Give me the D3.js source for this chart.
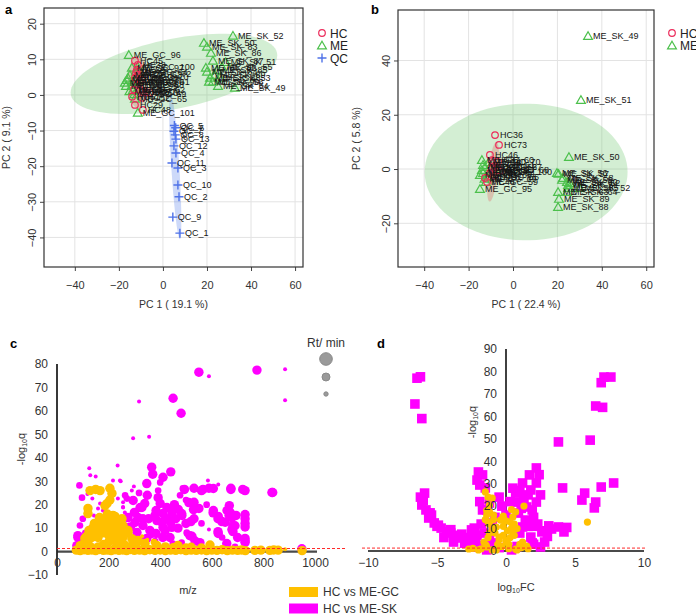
<!DOCTYPE html>
<html><head><meta charset="utf-8">
<script src="https://cdn.jsdelivr.net/npm/d3@7"></script>
<style>body{margin:0;background:#fff}svg{display:block;font-family:"Liberation Sans",Arial,sans-serif}</style>
</head><body><svg id="chart" width="696" height="614"></svg>
<script>
// ---------------- DATA ----------------
// Panel a : PCA scores (name, PC1, PC2)
const aHC = [["HC45",-12.7,9.6],["HC38",-11.4,8.4],["HC39",-11.8,7],["HC40",-11.4,5.6],["HC41",-12.7,4.8],["HC42",-9.5,4.2],["HC43",-10.5,3.4],["HC44",-11.8,2.8],["HC46",-10.5,1.4],["HC47",-9.1,0.8],["HC50",-7.3,0.8],["HC51",-14,-0.5],["HC52",-9.5,-0.8],["HC29",-12.7,-2.8],["HC48",-9.1,-4.2],["HC53",-5.9,0.6],["HC54",-13.2,1.5],["HC55",-12.2,6.2]];
const aME = [["ME_GC_96",-15.5,11.2],["ME_GC_97",-14.1,7.6],["ME_GC_98",-15.9,4.8],["ME_GC_99",-16.8,2.5],["ME_GC_60",-14.1,3.7],["ME_GC_61",-11.4,3.7],["ME_GC_62",-13.6,1.4],["ME_GC_63",-15,5.6],["ME_GC_64",-12.3,6.5],["ME_GC_101",-11.4,-5],["ME_GC_65",-12.7,-1.1],["ME_GC_100",-11.4,7.9],["ME_GC_66",-17.3,3.4],["ME_GC_67",-16.4,4.2],["ME_GC_68",-14,2.8],["ME_GC_69",-13,0.2],["ME_GC_70",-12,5],["ME_GC_71",-15.2,1.0],["ME_GC_72",-10.8,6.0],
  ["ME_SK_52",31.8,16.6],["ME_SK_50",18.6,14.6],["ME_SK_83",20,13.5],["ME_SK_86",21.8,11.8],["ME_SK_87",22.7,9.6],["ME_SK_82",19.5,7.6],["ME_SK_84",20,6.5],["ME_SK_85",24.5,7],["ME_SK_88",21.4,4.8],["ME_SK_89",23.6,5.6],["ME_SK_90",20.9,3.7],["ME_SK_53",25.9,4.8],["ME_SK_54",25,2.5],["ME_SK_49",32.7,2],["ME_SK_55",26.8,7.9],["ME_SK_51",28.5,9.2],["ME_SK_56",22.7,3.7]];
const aQC = [["QC_5",5.2,-8.6],["QC_6",5.8,-9.2],["QC_7",5.0,-10.2],["QC_8",5.6,-11.2],["QC_13",5.9,-12.4],["QC_12",5.0,-14.3],["QC_4",5.9,-16.3],["QC_11",4.1,-19.1],["QC_3",6.8,-20.5],["QC_10",6.8,-25.3],["QC_2",7.3,-28.6],["QC_9",4.5,-34.3],["QC_1",7.7,-38.8]];
// Panel b : PCA scores
const bHC = [["HC36",-8.1,12.5],["HC73",-6.3,8.9],["HC46",-10.4,5.2],["HC37",-9.5,3.3],["HC38",-9,2.2],["HC39",-7.2,0.7],["HC40",-6.8,2.6],["HC41",-9.5,0.4],["HC42",-10.4,-1.5],["HC43",-9,-1.1],["HC44",-11.7,-4.8],["HC45",-12.6,-3.3],["HC47",-8.5,-2.5],["HC48",-6,-0.5]];
const bME = [["ME_GC_60",-14,3.3],["ME_GC_61",-13.5,1.5],["ME_GC_62",-12.6,0.7],["ME_GC_63",-14,-0.4],["ME_GC_64",-13.5,-1.5],["ME_GC_65",-14.9,-2.2],["ME_GC_66",-11.7,-2.9],["ME_GC_59",-12.2,-4.8],["ME_GC_95",-14.9,-7.4],["ME_GC_100",-8.1,-1.1],["ME_GC_67",-10.4,0.7],["ME_GC_68",-7.2,-0.4],["ME_GC_69",-12.8,-3.6],["ME_GC_70",-11,2.5],
  ["ME_SK_49",33.8,49],["ME_SK_51",30.6,25.4],["ME_SK_50",25.2,4.4],["ME_SK_56",19.8,-1.5],["ME_SK_57",20.5,-1.8],["ME_SK_58",22.5,-3.3],["ME_SK_59",22.1,-4],["ME_SK_60",24.3,-4.8],["ME_SK_61",24.8,-5.9],["ME_SK_62",25.5,-5.2],["ME_SK_63",20.3,-8.5],["ME_SK_64",24.3,-8.5],["ME_SK_65",24.8,-7],["ME_SK_52",30,-7],["ME_SK_89",20.7,-11],["ME_SK_88",20.3,-14]];
// confidence ellipses: centre, semi-axis vector u, semi-axis vector v (data units)
const aEllME = [5, 5.9, 46.8, 5.9, -3.2, 9.6];
const aEllHC = [-11.4, 3.7, 0, 7.3, 4.5, 0];
const aEllQC = [5.6, -20, 2.1, -20.5, 1.8, 0.2];
const bEllME = [5.9, -1.1, 45.7, 0, 0, 25.2];
const bEllHC = [-9, -1, 1.5, 11, 2.2, 0];
const aXTicks = [-40,-20,0,20,40,60], aYTicks = [-40,-30,-20,-10,0,10,20];
const bXTicks = [-40,-20,0,20,40,60], bYTicks = [-20,0,20,40];

// Panel c : m/z, -log10 q, Rt (min)
const T = 2.5, M = 7, L = 14;
const cSK = [[550,76.5,L],[589,74.8,T],[775,77.4,L],[884,77.8,T],[884,64.5,T],[318,64,T],[450,65.4,L],[481,59,L],[295,48.3,T],[357,49,T],
[125,35.5,T],[129,32.5,T],[150,32,T],[235,36.7,T],[247,30,T],[217,30.3,T],[244,30.3,T],
[367,36,L],[371,33,L],[411,31.7,L],[441,34,L],[348,29,L],[400,29.5,M],[585,30.3,T],[625,28.6,T],
[87,28.2,M],[97,23,M],[137,22.6,T],[494,26.5,L],[560,26,L],[606,26.9,L],[674,26.5,L],[729,26,L],[836,25.2,L],
[511,20.9,L],[529,17.9,L],[483,16.2,L],[460,14,L],[519,12.8,L],[606,17.5,L],[625,15,L],[639,12.8,L],[668,19.6,L],[671,16.7,L],[694,15.4,L],[729,15.8,L],[729,12,L],[682,11,L],[678,9.4,L],[625,7.7,L],[729,5.6,L],[729,3.9,L],[589,9.4,T],[503,8.1,M],[515,6.8,L],[449,3.4,M],
[392,23,L],[384,17.5,L],[411,16.2,L],[387,13.2,L],[411,10.3,L],[384,7.7,L],[360,9,L],[329,18.8,L],[295,21.8,L],[314,14.5,L],[275,14.5,L],[271,7.7,M],[333,11.1,L],[310,8.1,L],
[100,14,M],[89,11.1,M],[81,6,L],[97,3.8,M],[143,15.4,T],[167,20.5,T],[178,17.5,T],[147,11.1,M],[256,18.8,T],[263,16.7,T],[290,26,T],[298,27.8,T],[198,20.5,T],[236,22.6,T],
[477,24,M],[500,22,M],[426,18.8,L],[445,10.3,L],[348,5.6,L],[306,3.8,L],[483,3.8,M],[554,3.8,L],[658,3.4,L],[690,2,M],[949,1.2,L],
[264,24,M],[322,18.8,L],[300,16.7,L],[271,22.6,M],[302,12.4,L],[333,14,L],[380,15.4,L],[407,12.4,L],[419,9,L],[367,7.7,L],[380,4.5,M],[446,16.7,L],[484,15.4,L],[469,10,L],[438,6,L],[504,7.7,M],[159,18.4,T],[159,14.5,M],[186,16.2,T],[256,21,T],[256,19,T],[81,6.8,L],[77,2.5,L],
[488,27,M],[392,26,M],[566,26.5,L],[589,27,L],[674,27,L],[720,26.5,L],[833,25.2,L],[531,27,L],[531,21,L],[550,18.4,L],[531,14,L],[523,6.5,L],[535,4.5,L],[605,16.5,L],[624,14,L],[652,12.5,L],[659,17.5,L],[667,15.5,L],[678,14.5,L],[690,11,L],[682,8.5,L],[729,14,L],[729,10.5,L],[624,8.5,L],[729,4.5,L],
[340,20.5,L],[355,14,L],[400,20.5,L],[430,14,L],[455,20,L],[350,24,L],[318,25,M],[285,10.5,L],[265,11,M],[410,6,L],[440,12.5,L],[470,18,L],[500,12,L],[560,12,M],[580,20,M],[640,6,M],[700,6,L],[110,8,M],[118,24.5,T],[205,13,T]];
const cGC = [[75,0.6,L],[90,0.4,L],[105,0.8,L],[120,0.5,L],[135,0.7,L],[150,0.4,L],[165,0.9,L],[180,0.5,L],[195,0.6,L],[210,0.4,L],[225,0.8,L],[240,0.5,L],[255,0.7,L],[270,0.4,L],[285,0.9,L],[300,0.5,L],[320,0.6,L],[340,0.4,L],[360,0.8,L],[380,0.5,L],[400,0.7,L],[420,0.4,L],[440,0.6,L],[460,0.5,L],[480,0.8,L],[500,0.4,L],[520,0.6,L],[540,0.5,L],[560,0.7,L],[580,0.4,L],[600,0.6,L],[620,0.5,L],[640,0.8,L],[660,0.4,L],[680,0.6,L],[700,0.5,L],[715,0.7,L],[730,0.4,L],[767,0.5,L],[790,0.6,L],[825,0.5,L],[840,0.7,L],[857,0.6,L],[884,1.0,T],[950,0.4,L],
[128,26,L],[150,26.5,L],[167,26,L],[205,27,L],[213,24.8,L],[205,22,L],[194,20.5,L],[120,18.4,L],[120,16.2,L],[186,19.6,L],[217,15.4,L],[186,14,L],[159,12,L],[140,10.3,L],[124,9,L],[252,14,L],[256,11,L],[264,7.7,L],[236,7.1,L],[275,9,L],[108,5.6,L],[205,12,L],[213,8,L],[178,8,L],[159,6,L],[217,5,L],[314,4.7,L],[341,3.4,L],[275,8,L],[310,3.8,L],[387,2.6,L],[593,2.8,L],[469,2.6,L],[230,13,L],[240,10,L],[195,16,L],[170,10,L],[150,8,L],[135,6,L],[120,4.5,L],[100,3,L],[200,4,L],[240,4.5,L],[260,3,L],[290,2.5,L],[230,2,L],[180,3,L],[160,2,L],[130,2,L],[350,1.5,M],[420,2,L],[450,1.6,L],[500,1.5,L],[520,1.8,L],[560,1.5,L],[330,6.5,T],[350,5,T],[376,4,M],
[225,15,L],[200,14.5,L],[175,12.5,L],[190,10,L],[220,10,L],[165,14.5,L],[145,12,L],[255,6,L],[290,5.5,L],[115,6.5,L],[90,2.5,L],[200,7,L],[230,5,L]];
const cXTicks = [0,200,400,600,800,1000], cYTicks = [-10,0,10,20,30,40,50,60,70,80];
const rtLegend = [25, 10, 3];

// Panel d : log10FC, -log10 q
const dSK = [[-6.45,77],[-6.2,77.6],[-6.6,65.5],[-6.1,59],[3.8,48.6],[6.1,49.4],[6.5,64.6],[7,64],[6.9,75],[7.1,77.5],[7.6,77.5],
[-5.9,25.8],[-6.1,20.5],[-5.8,18.3],[-5.6,14.7],[-5.2,12.5],[-4.7,10.2],[-4.3,8.5],[-3.8,7],[-3.3,5.8],[-2.8,4.9],[-2.3,10.2],[-2.1,7],[-2.2,4.9],[-2,35.2],[-1.7,33.9],[-2.1,31.6],[-1.9,29.4],[-1.5,28.1],[-1.4,18.3],[-1.2,21.4],[-1,12.5],[0.7,25.8],[0.8,21.8],[1.2,30.3],[1.7,33.9],[2.2,37],[2.2,30.3],[1.8,27.2],[2.5,25],[2.2,21.8],[1.5,19.6],[1.9,18.3],[0.9,16.9],[1.4,13.8],[1.2,10.7],[1.8,6.2],[2.6,8.5],[3.3,9.8],[3.8,10.7],[4.2,8.5],[4.1,28.1],[5.7,25.8],[5.5,22.7],[6.5,21.8],[6.4,19.2],[6.9,28.5],[7.8,30.3],[-2.5,9.4],[-2.9,4],[-2.5,1.8],[-1,3.6],[1.9,3.6],[2.5,1.8],[-1.4,0.5],[0.4,0.5],[-1.7,18.3],[-0.5,24],[-0.3,20],[0.3,22],[-5.4,16],[-5,11],[-4.0,8],[-3.5,6.5],[-3.0,3.5],[-2.6,6],[-1.8,12],[-1.6,8],[-1.2,5],[-0.8,15],[0,16],[1,8],[1.6,11],[2.3,12],[2,15],[1.3,23.5],[0.5,28],[1,27],[2.8,9],[3,6.5],[-0.5,1.5],[0.8,2],[-3.8,4],[-4.5,6],[-2,2.5],[2,3],[2.8,4],[-6.2,24],
[-6.0,22.5],[-5.5,17],[-4.9,11.5],[-4.0,9.5],[-3.2,7.5],[-2.4,3.2],[-1.9,22],[1.1,19],[1.6,25],[2.4,34],[2.0,11],[3.1,11.2],[4.4,10.5]];
const dGC = [[5.9,12.9],[-1.5,26.3],[-1.3,24],[-1,23.6],[-1.2,20.5],[-1.2,17.4],[0.7,17.4],[1.3,20],[0.5,15.2],[0,13.4],[-1.5,14],[-1.2,12],[-1,10],[-0.8,8],[-1.3,6],[-0.5,5],[0,4],[0.3,6],[0.5,8],[0.8,10],[0.6,12],[-0.3,2],[0.2,1],[1,3],[1.4,2],[1.6,1],[-1.8,1],[-2.4,1.2],[-1,0.5],[0.8,0.5],[-0.6,3],[0.1,9],[-0.2,11],[0.3,13],[-0.9,16],[-1.4,18],[0.4,18.5],[-1.4,16],[-1.3,13],[-1.2,8],[0.4,10.2],[0.6,7],[-0.4,13.8],[-0.7,10.7],[-0.5,6.2],[0,4.9],[1.2,4],[1.5,2.2],[-1.4,1.8],[-2.7,0.9],[-0.7,0.5],[0.7,0.8],[-0.9,14],[-0.2,7],[0.2,3],[-1.6,4],[1.1,1.5],[-0.2,15.5],[-2,0.5],[-1.45,2.6]];
const dXTicks = [-10,-5,0,5,10], dYTicks = [0,10,20,30,40,50,60,70,80,90];
const qThreshold = 1.3; // -log10(0.05)

// ---------------- STYLE ----------------
const colHC = "#EC2B5B", colME = "#4CC04C", colQC = "#4F72E8";
const colGC = "#FFC000", colSK = "#FF00FF";
const svg = d3.select("#chart");

// ---------------- helpers ----------------
function ellipsePath(e, x, y) {
  const pts = d3.range(0, 361, 4).map(a => {
    const t = a * Math.PI / 180;
    return [x(e[0] + e[2]*Math.cos(t) + e[4]*Math.sin(t)), y(e[1] + e[3]*Math.cos(t) + e[5]*Math.sin(t))];
  });
  return d3.line()(pts) + "Z";
}
function marker(g, type, cx, cy) {
  if (type === "HC") g.append("circle").attr("cx", cx).attr("cy", cy).attr("r", 3.3).attr("fill","none").attr("stroke", colHC).attr("stroke-width",1.2);
  else if (type === "ME") g.append("path").attr("transform",`translate(${cx},${cy+0.8})`).attr("d", d3.symbol(d3.symbolTriangle).size(34)()).attr("fill","none").attr("stroke", colME).attr("stroke-width",1.2);
  else g.append("path").attr("transform",`translate(${cx},${cy})`).attr("d","M-4.5,0H4.5M0,-4.5V4.5").attr("stroke", colQC).attr("stroke-width",1.4);
}

function pcaPanel(o) {
  const g = svg.append("g");
  const x = d3.scaleLinear().domain(o.xd).range([o.x0, o.x1]);
  const y = d3.scaleLinear().domain(o.yd).range([o.y0, o.y1]);
  g.selectAll(".gx").data(o.xt).join("line").attr("x1", d=>x(d)).attr("x2", d=>x(d)).attr("y1", o.y0).attr("y2", o.y1).attr("stroke","#e3e3e3").attr("stroke-width",1);
  g.selectAll(".gy").data(o.yt).join("line").attr("y1", d=>y(d)).attr("y2", d=>y(d)).attr("x1", o.x0).attr("x2", o.x1).attr("stroke","#e3e3e3").attr("stroke-width",1);
  o.ell.forEach(([e, c]) => g.append("path").attr("d", ellipsePath(e, x, y)).attr("fill", c).attr("fill-opacity", 0.3).attr("stroke","none"));
  const pg = g.append("g");
  o.groups.forEach(([arr, type]) => arr.forEach(p => marker(pg, type, x(p[1]), y(p[2]))));
  o.groups.forEach(([arr]) => arr.forEach(p => g.append("text").attr("x", x(p[1]) + 5).attr("y", y(p[2]) + 3.2).attr("font-size", 9).attr("fill","#151515").text(p[0])));
  const ax = g.append("g").attr("transform",`translate(0,${o.y1})`).call(d3.axisBottom(x).tickValues(o.xt).tickSize(4).tickPadding(10).tickFormat(d3.format("d")));
  ax.select(".domain").remove();
  ax.selectAll("text").attr("font-size", 11).attr("fill","#333").attr("font-family","Liberation Sans, Arial");
  ax.selectAll("line").attr("stroke","#444");
  const ay = g.append("g").attr("transform",`translate(${o.x0},0)`).call(d3.axisLeft(y).tickValues(o.yt).tickSize(4).tickFormat(d3.format("d")));
  ay.select(".domain").remove();
  ay.selectAll("line").attr("stroke","#444");
  ay.selectAll("text").attr("x",0).attr("dy",0).attr("transform","translate(-8,0) rotate(-90)").attr("text-anchor","middle").attr("font-size",11).attr("fill","#333").attr("font-family","Liberation Sans, Arial");
  g.append("rect").attr("x", o.x0).attr("y", o.y0).attr("width", o.x1-o.x0).attr("height", o.y1-o.y0).attr("fill","none").attr("stroke","#333").attr("stroke-width",1.2);
  g.append("text").attr("x", (o.x0+o.x1)/2).attr("y", 308).attr("text-anchor","middle").attr("font-size",10.5).attr("fill","#333").text(o.xl);
  g.append("text").attr("transform",`translate(${o.ylx},${(o.y0+o.y1)/2}) rotate(-90)`).attr("text-anchor","middle").attr("font-size",10.5).attr("fill","#333").text(o.yl);
  o.leg.forEach((t, i) => {
    marker(g, t, o.lx, o.ly + i*12.5);
    g.append("text").attr("x", o.lx + 8).attr("y", o.ly + i*12.5 + 4.5).attr("font-size", 12).attr("fill","#222").text(t);
  });
  g.append("text").attr("x", o.px).attr("y", o.py).attr("font-size", 13).attr("font-weight","bold").text(o.tag);
}

pcaPanel({xd:[-54,63.6], yd:[24.4,-48.3], x0:44, x1:303, y0:8, y1:267, xt:aXTicks, yt:aYTicks,
  ell:[[aEllME,"rgb(110,200,110)"],[aEllHC,"rgb(230,90,90)"],[aEllQC,"rgb(90,130,235)"]],
  groups:[[aME,"ME"],[aHC,"HC"],[aQC,"QC"]], xl:"PC 1 ( 19.1 %)", yl:"PC 2 ( 9.1 %)", ylx:10,
  leg:["HC","ME","QC"], lx:322, ly:33, tag:"a", px:5, py:14});
pcaPanel({xd:[-51.8,63.5], yd:[58.6,-36.1], x0:398, x1:654, y0:10, y1:267, xt:bXTicks, yt:bYTicks,
  ell:[[bEllME,"rgb(110,200,110)"],[bEllHC,"rgb(230,90,90)"]],
  groups:[[bME,"ME"],[bHC,"HC"]], xl:"PC 1 ( 22.4 %)", yl:"PC 2 ( 5.8 %)", ylx:360,
  leg:["HC","ME"], lx:672, ly:33, tag:"b", px:371, py:14});

// ---------------- panel c ----------------
(function(){
  const g = svg.append("g");
  const x = d3.scaleLinear().domain([0,1000]).range([57,315]);
  const y = d3.scaleLinear().domain([-10,80]).range([575,364]);
  const r = d3.scaleSqrt().domain([0,25]).range([0,6.3]);
  g.append("line").attr("x1",x(0)).attr("x2",x(1000)+2).attr("y1",y(0)).attr("y2",y(0)).attr("stroke","#4a4a4a").attr("stroke-width",2.2);
  g.append("line").attr("x1",x(0)).attr("x2",x(0)).attr("y1",y(80)).attr("y2",y(-10)).attr("stroke","#222").attr("stroke-width",1.8);
  g.append("g").selectAll("circle").data(cSK).join("circle").attr("cx",d=>x(d[0])).attr("cy",d=>y(d[1])).attr("r",d=>r(d[2])).attr("fill",colSK);
  g.append("g").selectAll("circle").data(cGC).join("circle").attr("cx",d=>x(d[0])).attr("cy",d=>y(d[1])).attr("r",d=>r(d[2])).attr("fill",colGC);
  g.append("line").attr("x1",57).attr("x2",346).attr("y1",y(qThreshold)).attr("y2",y(qThreshold)).attr("stroke","#ff2a2a").attr("stroke-width",1).attr("stroke-dasharray","3,2");
  const ay = g.append("g").attr("transform",`translate(${x(0)},0)`).call(d3.axisLeft(y).tickValues(cYTicks).tickSize(0).tickPadding(9));
  ay.select(".domain").remove();
  ay.selectAll("text").attr("font-size",12).attr("fill","#333").attr("font-family","Liberation Sans, Arial");
  const ax = g.append("g").attr("transform",`translate(0,${y(0)})`).call(d3.axisBottom(x).tickValues(cXTicks).tickSize(0).tickPadding(7).tickFormat(d3.format("d")));
  ax.select(".domain").remove();
  ax.selectAll("text").attr("font-size",12).attr("fill","#333").attr("font-family","Liberation Sans, Arial");
  g.append("text").attr("x",188).attr("y",594).attr("text-anchor","middle").attr("font-size",11).attr("fill","#333").text("m/z");
  const yl = g.append("text").attr("transform","translate(25,449) rotate(-90)").attr("text-anchor","middle").attr("font-size",11).attr("fill","#333");
  yl.append("tspan").text("-log");
  yl.append("tspan").attr("font-size",7).attr("dy",2).text("10");
  yl.append("tspan").attr("dy",-2).text("q");
  g.append("text").attr("x",326).attr("y",347).attr("text-anchor","middle").attr("font-size",12).attr("fill","#333").text("Rt/ min");
  g.selectAll(".rl").data(rtLegend).join("circle").attr("cx",326).attr("cy",(d,i)=>[359,377,394][i]).attr("r",d=>r(d)).attr("fill","#9a9a9a").attr("stroke","#8a8a8a");
  g.append("text").attr("x",10).attr("y",348).attr("font-size",13).attr("font-weight","bold").text("c");
  [["HC vs ME-GC",colGC],["HC vs ME-SK",colSK]].forEach(([t,c],i)=>{
    g.append("rect").attr("x",289).attr("y",587+i*16.5).attr("width",29).attr("height",10).attr("fill",c);
    g.append("text").attr("x",323).attr("y",596+i*16.5).attr("font-size",12).attr("fill","#333").text(t);
  });
})();

// ---------------- panel d ----------------
(function(){
  const g = svg.append("g");
  const x = d3.scaleLinear().domain([-10,10]).range([368,644]);
  const y = d3.scaleLinear().domain([0,90]).range([551,349]);
  g.append("line").attr("x1",x(-10)).attr("x2",x(10)).attr("y1",y(0)).attr("y2",y(0)).attr("stroke","#4a4a4a").attr("stroke-width",2.2);
  g.append("line").attr("x1",x(0)).attr("x2",x(0)).attr("y1",y(90)).attr("y2",y(0)).attr("stroke","#111").attr("stroke-width",1.6);
  g.append("g").selectAll("rect").data(dSK).join("rect").attr("x",d=>x(d[0])-4.8).attr("y",d=>y(d[1])-4.8).attr("width",9.6).attr("height",9.6).attr("fill",colSK);
  g.append("g").selectAll("circle").data(dGC).join("circle").attr("cx",d=>x(d[0])).attr("cy",d=>y(d[1])).attr("r",3.6).attr("fill",colGC);
  g.append("line").attr("x1",362).attr("x2",647).attr("y1",y(qThreshold)).attr("y2",y(qThreshold)).attr("stroke","#ff2a2a").attr("stroke-width",1).attr("stroke-dasharray","3,2");
  const ay = g.append("g").attr("transform",`translate(${x(0)},0)`).call(d3.axisLeft(y).tickValues(dYTicks).tickSize(0).tickPadding(9));
  ay.select(".domain").remove();
  ay.selectAll("text").attr("font-size",12).attr("fill","#333").attr("font-family","Liberation Sans, Arial");
  const ax = g.append("g").attr("transform",`translate(0,${y(0)})`).call(d3.axisBottom(x).tickValues(dXTicks).tickSize(0).tickPadding(7));
  ax.select(".domain").remove();
  ax.selectAll("text").attr("font-size",12).attr("fill","#333").attr("font-family","Liberation Sans, Arial");
  const xl = g.append("text").attr("x",516).attr("y",591).attr("text-anchor","middle").attr("font-size",11).attr("fill","#333");
  xl.append("tspan").text("log");
  xl.append("tspan").attr("font-size",7).attr("dy",2).text("10");
  xl.append("tspan").attr("dy",-2).text("FC");
  const yl = g.append("text").attr("transform","translate(476,422) rotate(-90)").attr("text-anchor","middle").attr("font-size",11).attr("fill","#333");
  yl.append("tspan").text("-log");
  yl.append("tspan").attr("font-size",7).attr("dy",2).text("10");
  yl.append("tspan").attr("dy",-2).text("q");
  g.append("text").attr("x",377).attr("y",348).attr("font-size",13).attr("font-weight","bold").text("d");
})();
</script></body></html>
